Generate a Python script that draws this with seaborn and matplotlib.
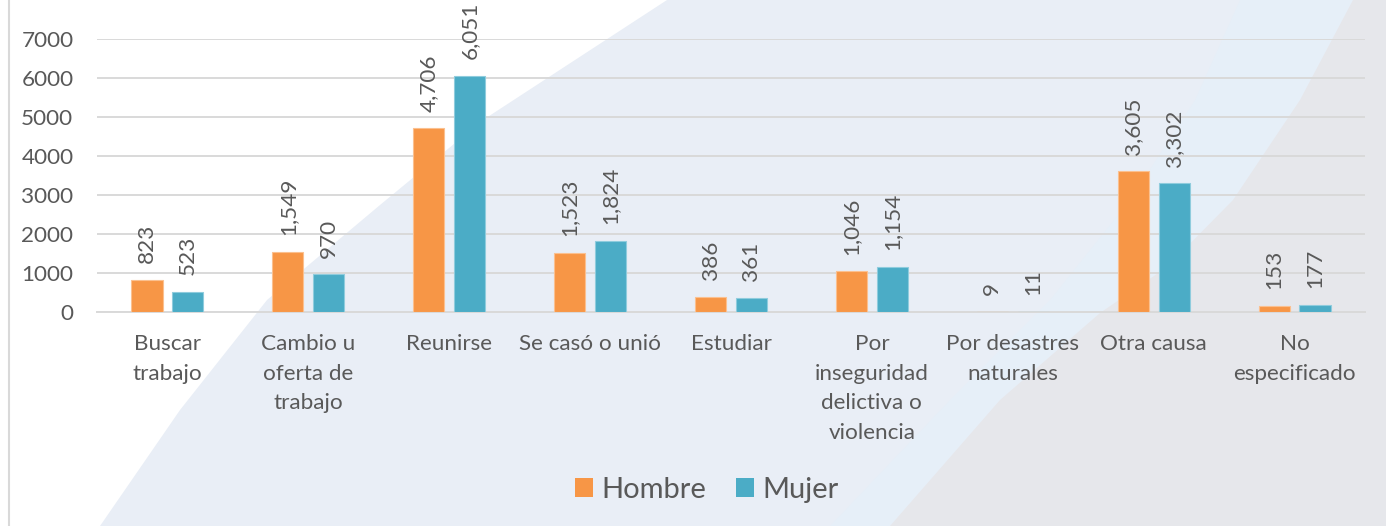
import numpy as np
import pandas as pd
import matplotlib
matplotlib.use("Agg")
import matplotlib.pyplot as plt
from matplotlib.patches import Polygon
from matplotlib.lines import Line2D
import seaborn as sns

# Reasons for migration, by sex
categories = [
    "Buscar\ntrabajo",
    "Cambio u\noferta de\ntrabajo",
    "Reunirse",
    "Se casó o unió",
    "Estudiar",
    "Por\ninseguridad\ndelictiva o\nviolencia",
    "Por desastres\nnaturales",
    "Otra causa",
    "No\nespecificado",
]
hombre = [823, 1549, 4706, 1523, 386, 1046, 9, 3605, 153]
mujer = [523, 970, 6051, 1824, 361, 1154, 11, 3302, 177]
series_names = ["Hombre", "Mujer"]
y_ticks = [0, 1000, 2000, 3000, 4000, 5000, 6000, 7000]

colors = {"Hombre": "#F79646", "Mujer": "#4BACC6"}
edge_colors = {"Hombre": "#FBC08F", "Mujer": "#8FCCDD"}
text_color = "#595959"
grid_color = "#D9D9D9"
fs = 16.2

df = pd.DataFrame({
    "causa": categories * 2,
    "sexo": ["Hombre"] * len(categories) + ["Mujer"] * len(categories),
    "valor": hombre + mujer,
})

sns.set_theme(style="white")
plt.rcParams["font.family"] = ["Lato", "DejaVu Sans"]

W, H = 1386, 526
fig = plt.figure(figsize=(W / 100, H / 100), dpi=100, facecolor="white")


def px(points):
    return [(x / W, 1 - y / H) for x, y in points]


# Decorative background shapes
fig.add_artist(Polygon(px([(667, 0), (575, 60), (483, 120), (380, 205), (267, 300),
                           (180, 410), (100, 526), (W, 526), (W, 0)]),
                       closed=True, transform=fig.transFigure,
                       facecolor="#E9EEF6", edgecolor="none", zorder=-30))
fig.add_artist(Polygon(px([(1240, 0), (1195, 100), (1130, 200), (1050, 300),
                           (950, 400), (830, 526), (W, 526), (W, 0)]),
                       closed=True, transform=fig.transFigure,
                       facecolor="#E6EFF8", edgecolor="none", zorder=-20))
fig.add_artist(Polygon(px([(1390, 0), (1353, 0), (1300, 100), (1233, 200), (1167, 267),
                           (1100, 313), (1000, 400), (890, 526), (W, 526)]),
                       closed=True, transform=fig.transFigure,
                       facecolor="#E6E7EB", edgecolor="none", zorder=-10))
# Left frame edge
fig.add_artist(Line2D([8.5 / W, 8.5 / W], [0, 1], transform=fig.transFigure,
                      color=grid_color, lw=1.5, zorder=-5))

ax = fig.add_axes([97 / W, 1 - 312 / H, (1365 - 97) / W, (312 - 39) / H])
ax.set_facecolor("none")

sns.barplot(data=df, x="causa", y="valor", hue="sexo", hue_order=series_names,
            palette=colors, width=0.58, gap=0.24, ax=ax, legend=False,
            saturation=1, zorder=3)

for container, name in zip(ax.containers, series_names):
    for bar in container:
        bar.set_edgecolor(edge_colors[name])
        bar.set_linewidth(0.8)
    ax.bar_label(container, labels=[f"{v:,.0f}" for v in container.datavalues],
                 rotation=90, padding=12, fontsize=fs, color=text_color,
                 clip_on=False)

ax.set_ylim(0, 7000)
ax.set_yticks(y_ticks)
ax.set_yticklabels([str(t) for t in y_ticks])
ax.set_xlim(-0.5, len(categories) - 0.5)
ax.grid(axis="y", color=grid_color, lw=1.4, zorder=0)
ax.set_axisbelow(True)
for s in ["top", "right", "left"]:
    ax.spines[s].set_visible(False)
ax.spines["bottom"].set_color(grid_color)
ax.spines["bottom"].set_linewidth(1.4)
ax.set_xlabel("")
ax.set_ylabel("")
ax.tick_params(axis="y", length=0, pad=17, labelsize=fs, labelcolor=text_color)
ax.tick_params(axis="x", length=0, pad=16, labelsize=fs, labelcolor=text_color)
for lbl in ax.get_xticklabels():
    lbl.set_linespacing(1.6)

handles = [plt.Rectangle((0, 0), 1, 1, facecolor=colors[n], edgecolor="none")
           for n in series_names]
fig.legend(handles, series_names, loc="center", bbox_to_anchor=(707 / W, 1 - 490 / H),
           ncol=2, frameon=False, fontsize=21, labelcolor=text_color,
           handlelength=0.62, handleheight=0.62, handletextpad=0.3,
           columnspacing=1.0)

fig.savefig("out.png", dpi=100, facecolor="white")
